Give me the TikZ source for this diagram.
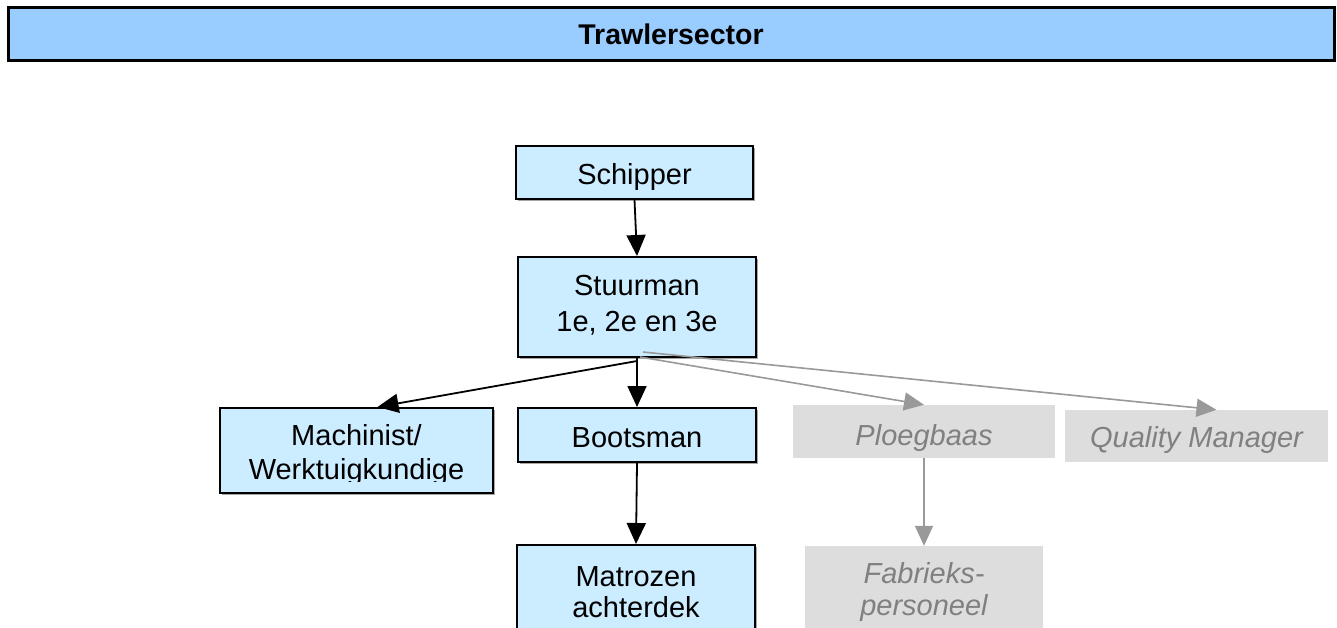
\documentclass[tikz,border=0pt]{standalone}
\usepackage{fontspec}
\setmainfont{Liberation Sans}
\usetikzlibrary{arrows.meta,shadows}
\definecolor{titleblue}{HTML}{99CCFF}
\definecolor{boxblue}{HTML}{CCECFF}
\definecolor{boxgray}{HTML}{DDDDDD}
\definecolor{txtgray}{HTML}{808080}
\definecolor{arrgray}{HTML}{999999}
\newcommand\mylift[2]{\raisebox{#1}[\height][\depth]{#2}}
\tikzset{
  bluebox/.style={draw=black, line width=2pt, fill=boxblue, align=center, inner sep=0pt,
    font=\fontsize{29}{32}\selectfont,
    drop shadow={shadow xshift=1.5pt, shadow yshift=-1.5pt, fill=black!35, opacity=1}},
  graybox/.style={draw=none, fill=boxgray, align=center, inner sep=0pt, text=txtgray,
    font=\fontsize{29}{32}\selectfont\itshape},
  blackarrow/.style={draw=black, line width=1.8pt, -{Triangle[length=21pt,width=19pt]}},
  grayarrow/.style={draw=arrgray, line width=1.6pt, -{Triangle[length=20pt,width=18pt]}},
}
\begin{document}
\begin{tikzpicture}[x=1pt,y=-1pt]
\useasboundingbox (0,0) rectangle (1337,627);
\fill[white] (0,0) rectangle (1337,627);
\node[draw=black, line width=3pt, fill=titleblue, minimum width=1326pt, minimum height=53pt,
  inner sep=0pt, font=\fontsize{28.5}{32}\selectfont\bfseries,
  drop shadow={shadow xshift=2pt, shadow yshift=-2pt, fill=black!30, opacity=1}]
  (title) at (671,33.5) {\mylift{-1pt}{Trawlersector}};
\node[bluebox, minimum width=237pt, minimum height=53pt] (sch) at (634.5,172.5) {\mylift{-4pt}{Schipper}};
\node[bluebox, minimum width=238pt, minimum height=100pt] (stu) at (637,307)
  {\mylift{2pt}{Stuurman}\\[4pt]\mylift{2pt}{1e, 2e en 3e}};
\node[bluebox, minimum width=273pt, minimum height=85pt] (mach) at (356.5,450.5)
  {\mylift{-4pt}{Machinist/}\\[2pt]\mylift{-4pt}{Werktuigkundige}};
\fill[boxblue] ([shift={(2.3,-12)}]mach.south west) rectangle ([shift={(-2.3,-2.3)}]mach.south east);
\node[bluebox, minimum width=238pt, minimum height=54pt] (boot) at (637,435) {\mylift{-3pt}{Bootsman}};
\node[bluebox, minimum width=238pt, minimum height=100pt] (mat) at (636,595)
  {\mylift{3pt}{Matrozen}\\[-1pt]\mylift{3pt}{achterdek}};
\node[graybox, minimum width=262pt, minimum height=53pt] (ploeg) at (924,431.5) {\mylift{-6pt}{Ploegbaas}};
\node[graybox, minimum width=263pt, minimum height=52pt] (qm) at (1196.5,436) {\mylift{-4pt}{Quality Manager}};
\node[graybox, minimum width=238pt, minimum height=100pt] (fab) at (924,596)
  {\mylift{4.5pt}{Fabrieks-}\\[0pt]\mylift{4.5pt}{personeel}};
\coordinate (b1) at (637,361);
\coordinate (g1) at (643,352);
\coordinate (g2) at (640,357);
\draw[blackarrow] (sch.south) -- (stu.north);
\draw[blackarrow] (b1) -- ([xshift=21pt]mach.north);
\draw[blackarrow] (stu.south) -- (boot.north);
\draw[blackarrow] (boot.south) -- (mat.north);
\draw[grayarrow] (g1) -- ([xshift=20pt]qm.north);
\draw[grayarrow] (g2) -- (ploeg.north);
\draw[grayarrow] (ploeg.south) -- (fab.north);
\end{tikzpicture}
\end{document}
